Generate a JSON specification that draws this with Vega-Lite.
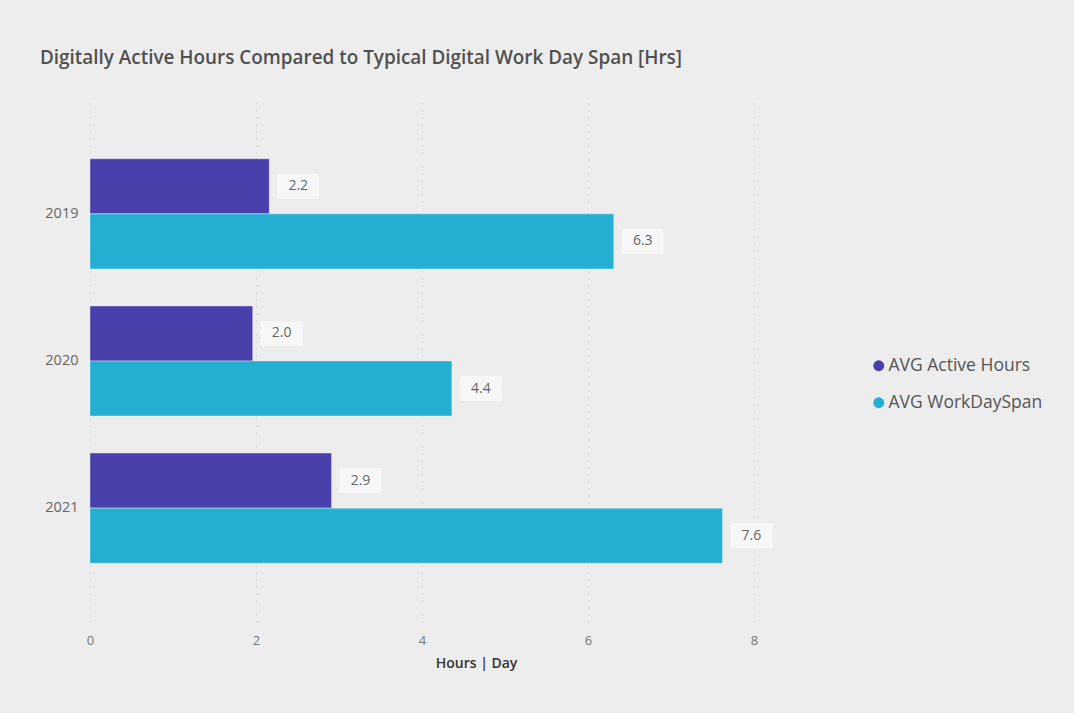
{
  "$schema": "https://vega.github.io/schema/vega-lite/v6.json",
  "autosize": {"type": "none"},
  "width": 664,
  "height": 522,
  "padding": {"left": 90, "top": 100, "right": 320, "bottom": 91},
  "background": "#ededed",
  "title": {
    "text": "Digitally Active Hours Compared to Typical Digital Work Day Span [Hrs]",
    "anchor": "start",
    "frame": "group",
    "dx": -50,
    "offset": 32,
    "font": "Open Sans",
    "fontSize": 18.9,
    "fontWeight": 600,
    "color": "#505050"
  },
  "config": {
    "view": {"stroke": null},
    "font": "Open Sans"
  },
  "data": {
    "values": [
      {"year": "2019", "series": "AVG Active Hours", "hours": 2.16},
      {"year": "2019", "series": "AVG WorkDaySpan", "hours": 6.31},
      {"year": "2020", "series": "AVG Active Hours", "hours": 1.96},
      {"year": "2020", "series": "AVG WorkDaySpan", "hours": 4.36},
      {"year": "2021", "series": "AVG Active Hours", "hours": 2.91},
      {"year": "2021", "series": "AVG WorkDaySpan", "hours": 7.62}
    ]
  },
  "encoding": {
    "y": {
      "field": "year",
      "type": "nominal",
      "scale": {"paddingInner": 0.252, "paddingOuter": 0.4},
      "axis": {
        "title": null,
        "domain": false,
        "ticks": false,
        "labelPadding": 12,
        "labelFontSize": 14.5,
        "labelColor": "#666666",
        "grid": false
      }
    },
    "yOffset": {
      "field": "series",
      "type": "nominal",
      "scale": {"paddingInner": 0, "paddingOuter": 0}
    },
    "x": {
      "field": "hours",
      "type": "quantitative",
      "scale": {"domain": [0, 8]},
      "axis": {
        "title": "Hours | Day",
        "values": [0, 2, 4, 6, 8],
        "domain": false,
        "ticks": false,
        "labelFlush": false,
        "labelPadding": 12,
        "labelFontSize": 13,
        "labelColor": "#777777",
        "titleFontSize": 14,
        "titleFontWeight": 600,
        "titleColor": "#333333",
        "titlePadding": 9,
        "titleX": 386,
        "titleAnchor": "middle",
        "grid": true,
        "gridColor": "#c8c8c8",
        "gridDash": [1, 6],
        "gridWidth": 1
      }
    }
  },
  "layer": [
    {
      "mark": {"type": "bar", "stroke": "#ffffff", "strokeOpacity": 0.35, "strokeWidth": 1},
      "encoding": {
        "color": {
          "field": "series",
          "type": "nominal",
          "scale": {"domain": ["AVG Active Hours", "AVG WorkDaySpan"], "range": ["#4a40ab", "#24afd3"]},
          "legend": {
            "title": null,
            "orient": "none",
            "legendX": 780,
            "legendY": 257,
            "symbolType": "circle",
            "symbolSize": 120,
            "symbolStrokeWidth": 0,
            "labelFontSize": 17.5,
            "labelColor": "#555555",
            "labelOffset": 1,
            "rowPadding": 18,
            "padding": 0
          }
        }
      }
    },
    {
      "mark": {
        "type": "point",
        "shape": "M-0.9,-0.6L0.9,-0.6Q1,-0.6 1,-0.5L1,0.5Q1,0.6 0.9,0.6L-0.9,0.6Q-1,0.6 -1,0.5L-1,-0.5Q-1,-0.6 -0.9,-0.6Z",
        "size": 1764,
        "filled": true,
        "fill": "#f7f7f7",
        "opacity": 1,
        "strokeWidth": 0,
        "xOffset": 29
      }
    },
    {
      "mark": {
        "type": "text",
        "xOffset": 29,
        "align": "center",
        "baseline": "middle",
        "fontSize": 14,
        "color": "#666666"
      },
      "encoding": {
        "text": {"field": "hours", "type": "quantitative", "format": ".1f"}
      }
    }
  ]
}
